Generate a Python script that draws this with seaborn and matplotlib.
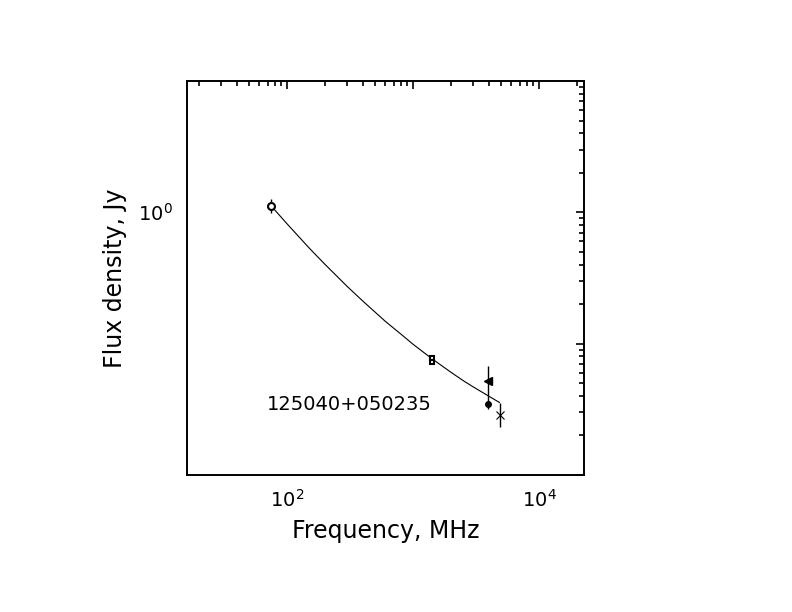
import numpy as np
import pandas as pd
import matplotlib
matplotlib.use("Agg")
import matplotlib.pyplot as plt
import matplotlib.ticker as mticker
import seaborn as sns

# fitted spectrum
curve_freq = [74, 100, 150, 200, 300, 400, 600, 800, 1000, 1400,
              2000, 2500, 3000, 4000, 4850]
curve_flux = [1.127, 0.814, 0.532, 0.400, 0.272, 0.210, 0.148, 0.118, 0.0987,
              0.0771, 0.0604, 0.0522, 0.0468, 0.0397, 0.0356]

# measurements: freq MHz, flux Jy, lower / upper error ends
vlss_freq = [74];    vlss_flux = [1.11];  vlss_lo = [0.995]; vlss_hi = [1.26]
nvss_freq = [1400, 1400]; nvss_flux = [0.0776, 0.0729]
tri_freq = [3900];   tri_flux = [0.0519]; tri_lo = [0.040];  tri_hi = [0.0679]
dot_freq = [3900];   dot_flux = [0.0346]; dot_lo = [0.0319]; dot_hi = [0.040]
x_freq = [4850];     x_flux = [0.0286];   x_lo = [0.0230];   x_hi = [0.0355]

source_name = "125040+050235"

sns.set_style("white")
plt.rcParams["font.family"] = ["DejaVu Sans"]
plt.rcParams["mathtext.fontset"] = "dejavusans"
plt.rcParams["text.color"] = "black"
plt.rcParams["axes.labelcolor"] = "black"
plt.rcParams["xtick.color"] = "black"
plt.rcParams["ytick.color"] = "black"

fig = plt.figure(figsize=(7.92, 6.12), dpi=100)
ax = fig.add_axes([0.2361, 0.2239, 0.5013, 0.6438])

curve = pd.DataFrame({"freq": curve_freq, "flux": curve_flux})
sns.lineplot(data=curve, x="freq", y="flux", ax=ax, color="black",
             linewidth=0.8, sort=False, estimator=None)


def err_points(fr, fl, lo, hi, **kw):
    fl = np.array(fl)
    yerr = [fl - np.array(lo), np.array(hi) - fl]
    ax.errorbar(fr, fl, yerr=yerr, fmt="none", ecolor="black",
                elinewidth=1.0, capsize=0)
    ax.plot(fr, fl, linestyle="none", color="black", **kw)


err_points(vlss_freq, vlss_flux, vlss_lo, vlss_hi, marker="o",
           markersize=5, markerfacecolor="white", markeredgewidth=1.5)
ax.plot(nvss_freq, nvss_flux, linestyle="none", marker="s", markersize=3.5,
        markerfacecolor="white", markeredgecolor="black", markeredgewidth=1.5)
err_points(tri_freq, tri_flux, tri_lo, tri_hi, marker="<", markersize=5.5)
err_points(dot_freq, dot_flux, dot_lo, dot_hi, marker="o", markersize=4)
err_points(x_freq, x_flux, x_lo, x_hi, marker="x", markersize=6,
           markeredgewidth=0.8)

ax.set_xscale("log")
ax.set_yscale("log")
ax.set_xlim(16, 22700)
ax.set_ylim(0.01, 10)

ax.xaxis.set_major_locator(mticker.FixedLocator([100, 1000, 10000]))
ax.xaxis.set_major_formatter(mticker.FixedFormatter(["$10^{2}$", "", "$10^{4}$"]))
ax.yaxis.set_major_locator(mticker.FixedLocator([0.01, 0.1, 1, 10]))
ax.yaxis.set_major_formatter(mticker.FixedFormatter(["", "", "$10^{0}$", ""]))
ax.xaxis.set_minor_locator(mticker.LogLocator(base=10, subs=np.arange(2, 10)))
ax.yaxis.set_minor_locator(mticker.LogLocator(base=10, subs=np.arange(2, 10)))
ax.xaxis.set_minor_formatter(mticker.NullFormatter())
ax.yaxis.set_minor_formatter(mticker.NullFormatter())

ax.tick_params(which="both", direction="in", top=True, right=True,
               color="black", width=1.2)
ax.tick_params(which="major", length=6, labelsize=14, pad=10)
ax.tick_params(which="minor", length=3.5)
for sp in ax.spines.values():
    sp.set_color("black")
    sp.set_linewidth(1.4)

ax.set_xlabel("Frequency, MHz", fontsize=17, labelpad=6)
ax.set_ylabel("Flux density, Jy", fontsize=17, labelpad=8)

ax.text(0.202, 0.178, source_name, transform=ax.transAxes, fontsize=14,
        ha="left", va="center")

fig.savefig("out.png", dpi=100)
